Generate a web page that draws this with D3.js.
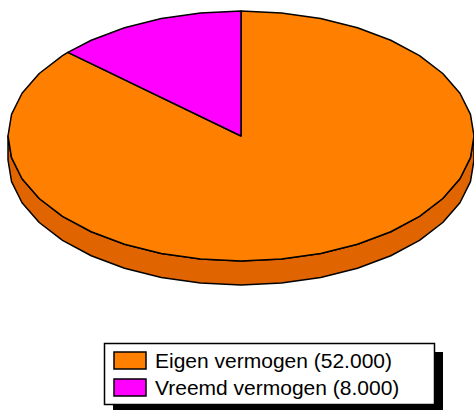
<!DOCTYPE html>
<html>
<head>
<meta charset="utf-8">
<style>
  html, body { margin: 0; padding: 0; background: #fff; }
  svg { display: block; }
</style>
</head>
<body>
<script src="https://cdn.jsdelivr.net/npm/d3@7"></script>
<script>
// data
const labels = ['Eigen vermogen', 'Vreemd vermogen']
const values = [52000, 8000]
const colors = ['#ff8000', '#ff00ff']
const sideColors = ['#e06400', '#d000d0']

const W = 474, H = 410
const cx = 241, cy = 136, rx = 233, ry = 125, depth = 24
const step = Math.PI / 18 // polygon step, old renderer look

const fmt = v => d3.format(',.0f')(v).replace(/,/g, '.')

// unit circle -> screen
let sx = d3.scaleLinear().domain([-1, 1]).range([cx - rx, cx + rx])
let sy = d3.scaleLinear().domain([-1, 1]).range([cy - ry, cy + ry])
// angle measured clockwise from 12 o'clock
let px = a => sx(Math.sin(a))
let py = (a, dz = 0) => sy(-Math.cos(a)) + dz

function arcPoints(a0, a1, dz = 0) {
  let pts = [[px(a0), py(a0, dz)]]
  for (let a = Math.ceil(a0 / step) * step; a < a1; a += step)
    if (a > a0) pts.push([px(a), py(a, dz)])
  pts.push([px(a1), py(a1, dz)])
  return pts
}

let svg = d3.select('body').append('svg')
  .attr('width', W).attr('height', H)
  .attr('viewBox', [0, 0, W, H])

let pie = d3.pie().sort(null).value(d => d)
let arcs = pie(values)

let line = d3.line()

// side walls: only front half (PI/2 .. 3PI/2) is visible
let gSide = svg.append('g')
arcs.forEach((d, i) => {
  let a0 = Math.max(d.startAngle, Math.PI / 2)
  let a1 = Math.min(d.endAngle, Math.PI * 3 / 2)
  if (a1 <= a0) return
  let top = arcPoints(a0, a1)
  let bottom = arcPoints(a0, a1, depth).reverse()
  gSide.append('path')
    .attr('d', line(top.concat(bottom)) + 'Z')
    .attr('fill', sideColors[i])
    .attr('stroke', '#000')
    .attr('stroke-width', 1.5)
    .attr('stroke-linejoin', 'round')
})

// top faces
svg.append('g').selectAll('path')
  .data(arcs)
  .join('path')
  .attr('d', d => line([[cx, cy]].concat(arcPoints(d.startAngle, d.endAngle))) + 'Z')
  .attr('fill', (d, i) => colors[i])
  .attr('stroke', '#000')
  .attr('stroke-width', 1.5)
  .attr('stroke-linejoin', 'round')

// legend
let lg = svg.append('g').attr('transform', 'translate(104,343)')
let lw = 330, lh = 61
lg.append('rect').attr('x', 9).attr('y', 9).attr('width', lw).attr('height', lh).attr('fill', '#000')
lg.append('rect').attr('x', 0.5).attr('y', 0.5).attr('width', lw).attr('height', lh)
  .attr('fill', '#fff').attr('stroke', '#000').attr('stroke-width', 1.5)

let item = lg.selectAll('g.item')
  .data(labels)
  .join('g')
  .attr('class', 'item')
  .attr('transform', (d, i) => `translate(10,${9 + i * 27})`)
item.append('rect')
  .attr('width', 32).attr('height', 17)
  .attr('fill', (d, i) => colors[i])
  .attr('stroke', '#000').attr('stroke-width', 1.5)
item.append('text')
  .attr('x', 41).attr('y', 15.5)
  .attr('font-family', '"Liberation Sans", Arial, sans-serif')
  .attr('font-size', 21)
  .attr('fill', '#000')
  .text((d, i) => `${d} (${fmt(values[i])})`)
</script>
</body>
</html>
